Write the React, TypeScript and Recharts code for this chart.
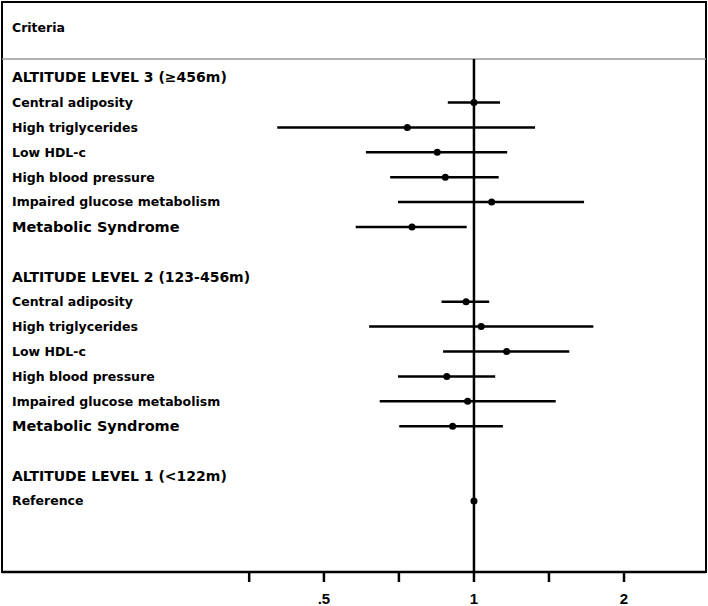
import React from 'react';
import { ScatterChart, Scatter, XAxis, YAxis, ErrorBar, ReferenceLine, ReferenceArea } from 'recharts';

// filas de la tabla (indice = posicion vertical)
const rowLabels = [
  'Criteria',
  '',
  'ALTITUDE LEVEL 3 (≥456m)',
  'Central adiposity',
  'High triglycerides',
  'Low HDL-c',
  'High blood pressure',
  'Impaired glucose metabolism',
  'Metabolic Syndrome',
  '',
  'ALTITUDE LEVEL 2 (123-456m)',
  'Central adiposity',
  'High triglycerides',
  'Low HDL-c',
  'High blood pressure',
  'Impaired glucose metabolism',
  'Metabolic Syndrome',
  '',
  'ALTITUDE LEVEL 1 (<122m)',
  'Reference',
];
const rowKinds = [
  'title', '', 'group', 'item', 'item', 'item', 'item', 'item', 'total', '',
  'group', 'item', 'item', 'item', 'item', 'item', 'total', '', 'group', 'item',
];

// nivel 3
const level3Rows = [3, 4, 5, 6, 7, 8];
const level3OR = [1.0, 0.735, 0.844, 0.876, 1.085, 0.751];
const level3Low = [0.886, 0.403, 0.607, 0.679, 0.704, 0.579];
const level3High = [1.128, 1.326, 1.166, 1.121, 1.663, 0.967];

// nivel 2
const level2Rows = [11, 12, 13, 14, 15, 16];
const level2OR = [0.964, 1.034, 1.163, 0.882, 0.971, 0.906];
const level2Low = [0.861, 0.616, 0.867, 0.704, 0.647, 0.708];
const level2High = [1.073, 1.736, 1.553, 1.103, 1.459, 1.143];

// nivel 1 (referencia)
const level1Rows = [19];
const level1OR = [1];
const level1Low = [1];
const level1High = [1];

const xTicks = [0.354, 0.5, 0.707, 1, 1.414, 2];
const xTickLabels = ['', '.5', '', '1', '', '2'];

const xMin = 0.113;
const xMax = 2.921;
const yTop = -1.036;
const yBottom = 21.855;
const headerSplit = 1.253;

const buildData = (rows, or, low, high) =>
  rows.map((r, i) => ({ y: r, x: or[i], err: [or[i] - low[i], high[i] - or[i]] }));

const data = [
  ...buildData(level3Rows, level3OR, level3Low, level3High),
  ...buildData(level2Rows, level2OR, level2Low, level2High),
  ...buildData(level1Rows, level1OR, level1Low, level1High),
];

const labelTicks = rowLabels.map((l, i) => (l ? i : -1)).filter((i) => i >= 0);

const RowTick = ({ y, payload }) => {
  const i = payload.value;
  const kind = rowKinds[i];
  const size = kind === 'group' ? 14 : kind === 'total' ? 14.5 : kind === 'title' ? 12.5 : 12.5;
  return (
    <text x={12} y={y} dy="0.35em" textAnchor="start" fontFamily="DejaVu Sans" fontWeight="bold" fontSize={size} fill="#000">
      {rowLabels[i]}
    </text>
  );
};

const Dot = ({ cx, cy }) => <circle cx={cx} cy={cy} r={3.5} fill="#000" />;

export default function App() {
  return (
    <div style={{ position: 'absolute', left: 0, top: 0, background: '#fff' }}>
      <ScatterChart width={708} height={606} margin={{ top: 2, right: 2, bottom: 0, left: 1 }}>
        <XAxis
          type="number"
          dataKey="x"
          scale="log"
          domain={[xMin, xMax]}
          allowDataOverflow
          ticks={xTicks}
          interval={0}
          tickFormatter={(v) => xTickLabels[xTicks.indexOf(v)]}
          axisLine={{ stroke: '#000', strokeWidth: 2.5 }}
          tickLine={{ stroke: '#000', strokeWidth: 2.5 }}
          tickSize={10}
          tickMargin={11}
          tick={{ fill: '#000', fontSize: 15, fontWeight: 'bold', fontFamily: 'Liberation Sans' }}
          height={34}
        />
        <YAxis
          type="number"
          dataKey="y"
          domain={[yTop, yBottom]}
          reversed
          allowDataOverflow
          ticks={labelTicks}
          interval={0}
          width={1}
          axisLine={false}
          tickLine={false}
          tick={RowTick}
        />
        <ReferenceArea x1={xMin} x2={xMax} y1={yTop} y2={yBottom} fill="none" stroke="#000" strokeWidth={2} strokeOpacity={1} />
        <ReferenceLine y={headerSplit} stroke="#9a9a9a" strokeWidth={1.5} />
        <ReferenceLine
          segment={[{ x: 1, y: headerSplit }, { x: 1, y: yBottom }]}
          stroke="#000"
          strokeWidth={2.5}
        />
        <Scatter data={data} shape={Dot} isAnimationActive={false}>
          <ErrorBar dataKey="err" direction="x" width={0} stroke="#000" strokeWidth={2.5} isAnimationActive={false} />
        </Scatter>
      </ScatterChart>
    </div>
  );
}
